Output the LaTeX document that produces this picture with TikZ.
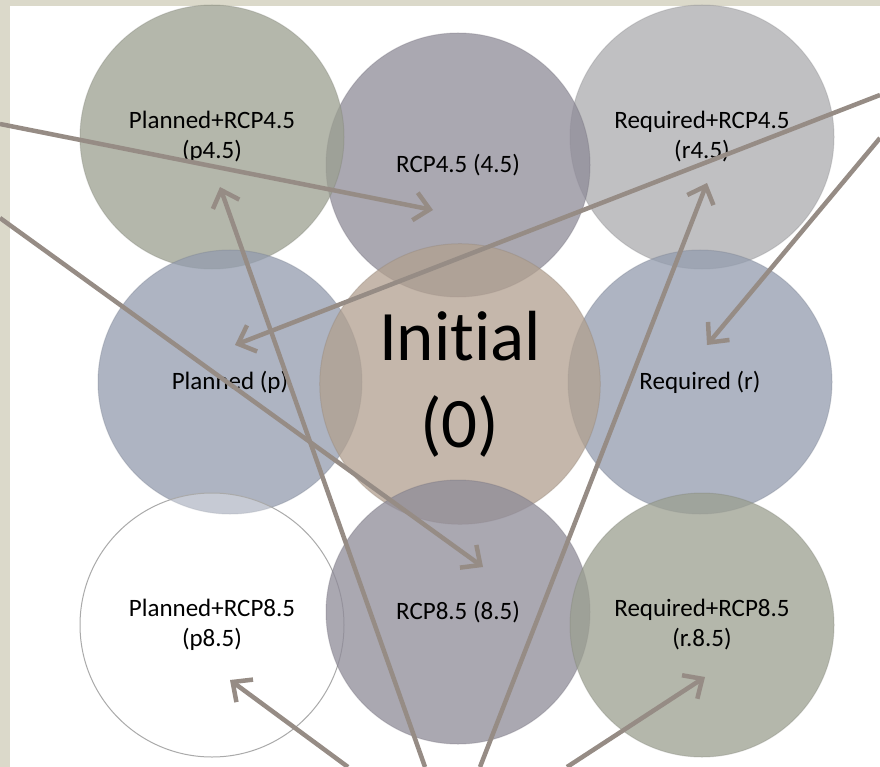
\documentclass[tikz,border=0pt]{standalone}
\usepackage{fontspec}
\setmainfont[Ligatures = NoCommon]{Carlito}
\usetikzlibrary{arrows.meta}

\definecolor{frameBeige}{RGB}{219,217,202}
\definecolor{arrowTaupe}{RGB}{150,140,133}
\definecolor{sageGray}{RGB}{155,159,144}
\definecolor{duskGray}{RGB}{142,139,152}
\definecolor{paleGray}{RGB}{171,171,174}
\definecolor{slateGray}{RGB}{147,156,174}
\definecolor{sandGray}{RGB}{178,160,143}
\definecolor{rimGray}{RGB}{170,170,170}

\begin{document}
\begin{tikzpicture}[x=1pt, y=-1pt]
    	\tikzstyle{bubble} = 
    	[circle,
    	minimum size = 264pt,
    	inner sep = 0pt,
    	line width = 1pt,
    	fill opacity = 0.75,
    	draw opacity = 0.3,
    	text opacity = 1,
    	font = \fontsize{25}{30}\selectfont
    	]
    	\tikzstyle{sage} = [bubble, fill = sageGray, draw = sageGray!80!black]
    	\tikzstyle{dusk} = [bubble, fill = duskGray, draw = duskGray!80!black]
    	\tikzstyle{pale} = [bubble, fill = paleGray, draw = paleGray!80!black]
    	\tikzstyle{slate} = [bubble, fill = slateGray, draw = slateGray!80!black]
    	\tikzstyle{sand} = [bubble, fill = sandGray, draw = sandGray!80!black]
    	\tikzstyle{hollow} = 
    	[bubble,
    	fill = white,
    	fill opacity = 0.3,
    	draw = rimGray,
    	draw opacity = 1
    	]
    	\tikzstyle{pointer} = 
    	[line width = 4.5pt,
    	draw = arrowTaupe,
    	-{Straight Barb[length = 15pt, width = 28pt]}
    	]

        % frame
        \fill[frameBeige] (0,0) rectangle (880,767);
        \fill[white] (10,6) rectangle (880,767);
        \useasboundingbox (0,0) rectangle (880,767);

        % scenarios
        \node[pale]   (r45)   at (702,137) {\parbox{200pt}{\centering Required+RCP4.5\\(r4.5)}};
        \node[dusk]   (rcp45) at (458,165) {RCP4.5 (4.5)};
        \node[sage]   (p45)   at (212,137) {\parbox{200pt}{\centering Planned+RCP4.5\\(p4.5)}};
        \node[slate]  (plan)  at (230,382) {Planned (p)};
        \node[slate]  (req)   at (700,382) {Required (r)};
        \node[sand]   (init)  at (460,384)
        	{\parbox{240pt}{\centering\fontsize{71}{87}\selectfont Initial\\(0)}};
        \node[hollow] (p85)   at (212,625) {\parbox{200pt}{\centering Planned+RCP8.5\\(p8.5)}};
        \node[dusk]   (rcp85) at (458,612) {RCP8.5 (8.5)};
        \node[sage]   (r85)   at (702,625) {\parbox{200pt}{\centering Required+RCP8.5\\(r.8.5)}};

        % loose ends
        \coordinate (westA)  at (0,124);
        \coordinate (westB)  at (0,218);
        \coordinate (eastA)  at (880,95);
        \coordinate (eastB)  at (880,138);
        \coordinate (footA)  at (348,767);
        \coordinate (footB)  at (425,767);
        \coordinate (footC)  at (480,767);
        \coordinate (footD)  at (567,767);

        \coordinate (inRcp45) at ([shift = {(-25,45)}] rcp45.center);
        \coordinate (inRcp85) at ([shift = {(25,-45)}] rcp85.center);
        \coordinate (inPlan)  at ([shift = {(5,-37)}] plan.center);
        \coordinate (inReq)   at ([shift = {(7,-37)}] req.center);
        \coordinate (inP45)   at ([shift = {(8,50)}] p45.center);
        \coordinate (inR45)   at ([shift = {(5,46)}] r45.center);
        \coordinate (inP85)   at ([shift = {(18,55)}] p85.center);
        \coordinate (inR85)   at ([shift = {(3,52)}] r85.center);

        \draw
        (westA) edge[pointer] (inRcp45)
        (westB) edge[pointer] (inRcp85)
        (eastA) edge[pointer] (inPlan)
        (eastB) edge[pointer] (inReq)
        (footA) edge[pointer] (inP85)
        (footB) edge[pointer] (inP45)
        (footC) edge[pointer] (inR45)
        (footD) edge[pointer] (inR85)
		;
\end{tikzpicture}
\end{document}
